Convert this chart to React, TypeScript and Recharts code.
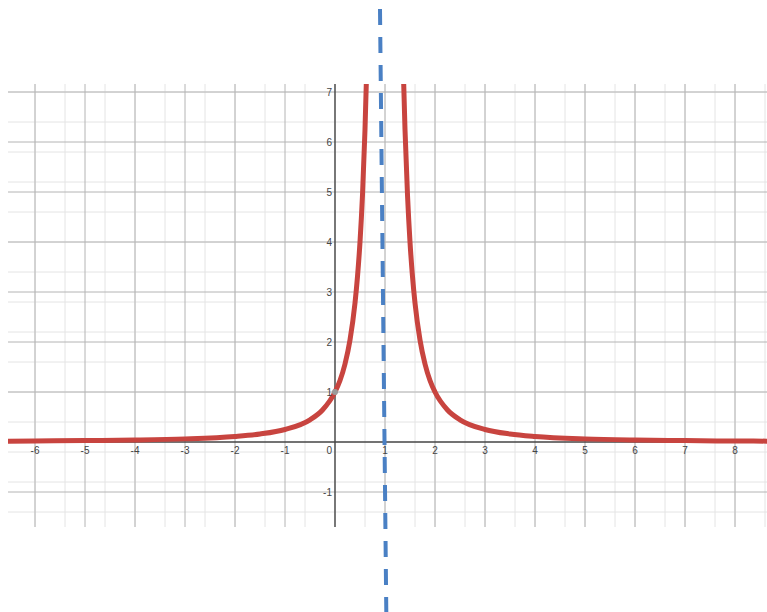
import React from 'react';
import {
  ComposedChart,
  Line,
  Scatter,
  XAxis,
  YAxis,
  CartesianGrid,
  ReferenceLine,
  ReferenceDot,
} from 'recharts';

// ---- data: y = 1/(x-1)^2 ----
const leftBranch = [
  { x: -6.6, y: 0.017 },
  { x: -6, y: 0.02 },
  { x: -5, y: 0.028 },
  { x: -4, y: 0.04 },
  { x: -3, y: 0.0625 },
  { x: -2, y: 0.111 },
  { x: -1.5, y: 0.16 },
  { x: -1, y: 0.25 },
  { x: -0.5, y: 0.444 },
  { x: -0.25, y: 0.64 },
  { x: 0, y: 1.0 },
  { x: 0.1, y: 1.23 },
  { x: 0.2, y: 1.56 },
  { x: 0.3, y: 2.04 },
  { x: 0.4, y: 2.78 },
  { x: 0.45, y: 3.31 },
  { x: 0.5, y: 4.0 },
  { x: 0.55, y: 4.94 },
  { x: 0.6, y: 6.25 },
  { x: 0.63, y: 7.31 },
  { x: 0.65, y: 8.16 },
];

const rightBranch = [
  { x: 1.35, y: 8.16 },
  { x: 1.37, y: 7.31 },
  { x: 1.4, y: 6.25 },
  { x: 1.45, y: 4.94 },
  { x: 1.5, y: 4.0 },
  { x: 1.55, y: 3.31 },
  { x: 1.6, y: 2.78 },
  { x: 1.7, y: 2.04 },
  { x: 1.8, y: 1.56 },
  { x: 1.9, y: 1.23 },
  { x: 2, y: 1.0 },
  { x: 2.25, y: 0.64 },
  { x: 2.5, y: 0.444 },
  { x: 3, y: 0.25 },
  { x: 3.5, y: 0.16 },
  { x: 4, y: 0.111 },
  { x: 5, y: 0.0625 },
  { x: 6, y: 0.04 },
  { x: 7, y: 0.028 },
  { x: 8, y: 0.02 },
  { x: 8.7, y: 0.017 },
];

// vertical asymptote (dashed) drawn slightly tilted, past the grid
const asymptoteSegment = [
  { x: 0.9, y: 8.66 },
  { x: 1.026, y: -3.4 },
];

const originPoint = { x: 0, y: 1 };

const xDomain = [-6.54, 8.64];
const yDomain = [-1.7, 7.16];

const xTickLabels = [-6, -5, -4, -3, -2, -1, 1, 2, 3, 4, 5, 6, 7, 8];
const yTickLabels = [-1, 1, 2, 3, 4, 5, 6, 7];
const majorX = [-6, -5, -4, -3, -2, -1, 1, 2, 3, 4, 5, 6, 7, 8];
const majorY = [-1, 1, 2, 3, 4, 5, 6, 7];

const minorStep = 0.2;
const makeMinor = (from: number, to: number) => {
  const out: number[] = [];
  for (let v = from; v <= to + 1e-9; v += minorStep) out.push(Math.round(v * 10) / 10);
  return out;
};
const minorX = makeMinor(-6.4, 8.6);
const minorY = makeMinor(-1.6, 7.0);

const xLabelData = xTickLabels.map((v) => ({ x: v, y: 0, label: String(v) }));
const yLabelData = yTickLabels.map((v) => ({ x: 0, y: v, label: String(v) }));
const zeroLabelData = [{ x: 0, y: 0, label: '0' }];

const labelFont = 'Arial, "Liberation Sans", sans-serif';

const XLabel = (p: any) => (
  <text x={p.cx} y={p.cy + 12} textAnchor="middle" fontSize={10} fill="#444" fontFamily={labelFont}>
    {p.payload.label}
  </text>
);
const YLabel = (p: any) => (
  <text x={p.cx - 3} y={p.cy + 3.5} textAnchor="end" fontSize={10} fill="#444" fontFamily={labelFont}>
    {p.payload.label}
  </text>
);
const ZeroLabel = (p: any) => (
  <text x={p.cx - 3} y={p.cy + 12} textAnchor="end" fontSize={10} fill="#444" fontFamily={labelFont}>
    {p.payload.label}
  </text>
);

export default function App() {
  return (
    <div style={{ position: 'absolute', left: 0, top: 0, width: 767, height: 612, background: '#fff' }}>
      <ComposedChart width={767} height={612} margin={{ top: 84, right: 0, bottom: 85, left: 8 }}>
        <XAxis type="number" dataKey="x" domain={xDomain} allowDataOverflow hide />
        <YAxis type="number" dataKey="y" domain={yDomain} allowDataOverflow hide />
        <CartesianGrid verticalValues={minorX} horizontalValues={minorY} stroke="#e4e4e4" strokeWidth={1} />
        <CartesianGrid verticalValues={majorX} horizontalValues={majorY} stroke="#b4b4b4" strokeWidth={1} />
        <ReferenceLine x={0} stroke="#444" strokeWidth={1.4} />
        <ReferenceLine y={0} stroke="#444" strokeWidth={1.4} />
        <Scatter data={xLabelData} dataKey="y" shape={XLabel} isAnimationActive={false} />
        <Scatter data={yLabelData} dataKey="y" shape={YLabel} isAnimationActive={false} />
        <Scatter data={zeroLabelData} dataKey="y" shape={ZeroLabel} isAnimationActive={false} />
        <Line
          data={leftBranch}
          dataKey="y"
          type="monotone"
          stroke="#c8443f"
          strokeWidth={5}
          dot={false}
          activeDot={false}
          isAnimationActive={false}
        />
        <Line
          data={rightBranch}
          dataKey="y"
          type="monotone"
          stroke="#c8443f"
          strokeWidth={5}
          dot={false}
          activeDot={false}
          isAnimationActive={false}
        />
        <ReferenceDot x={originPoint.x} y={originPoint.y} r={3} fill="#9a9a9a" stroke="none" />
        <ReferenceLine
          segment={asymptoteSegment}
          stroke="#4a80c4"
          strokeWidth={4}
          strokeDasharray="16 12"
          ifOverflow="visible"
        />
      </ComposedChart>
    </div>
  );
}
